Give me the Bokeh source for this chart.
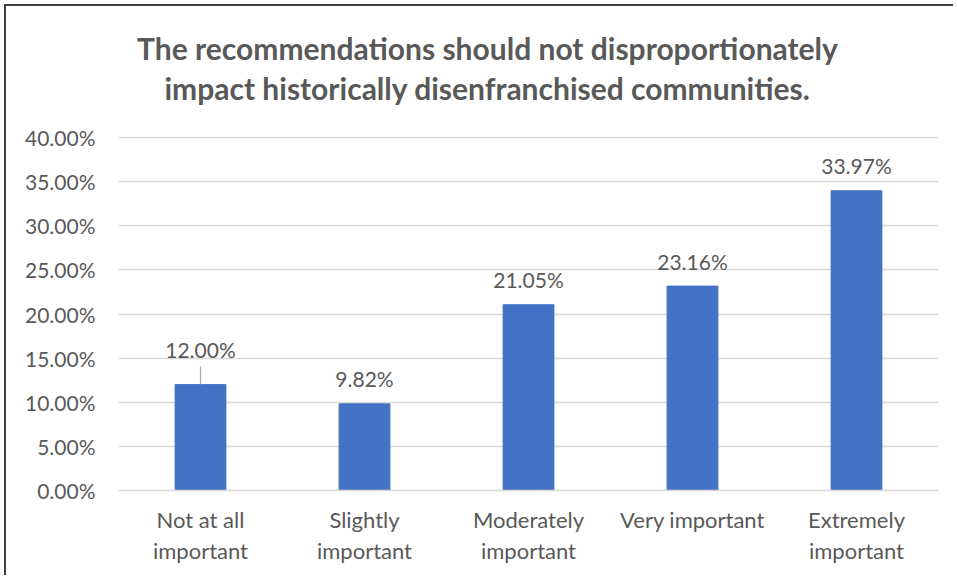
from bokeh.plotting import figure
from bokeh.models import (ColumnDataSource, Range1d, FixedTicker, NumeralTickFormatter,
                          CategoricalAxis, CustomJSTickFormatter)
from bokeh.core.properties import value
from bokeh.embed import file_html
from bokeh.resources import INLINE

# ---- data ----
title_lines = [
    "The recommendations should not disproportionately",
    "impact historically disenfranchised communities.",
]
categories = [
    "Not at all important",
    "Slightly important",
    "Moderately important",
    "Very important",
    "Extremely important",
]
label_line1 = ["Not at all", "Slightly", "Moderately", "Very important", "Extremely"]
label_line2 = ["important", "important", "important", "", "important"]
shares = [0.1200, 0.0982, 0.2105, 0.2316, 0.3397]
y_ticks = [0.00, 0.05, 0.10, 0.15, 0.20, 0.25, 0.30, 0.35, 0.40]

# ---- styling ----
FONT = "Lato"
GRAY = "#595959"
BAR = "#4472C4"
GRID = "#D9D9D9"

W, H = 949, 571
FRAME_L, FRAME_R, FRAME_B = 112, 17, 87
AXIS_TOP_PX = 131          # space (px) between canvas top and the 40% gridline
FRAME_H = H - FRAME_B       # frame spans to the canvas top so the title can live inside it
Y_MAX = 0.40
px = Y_MAX / (FRAME_H - AXIS_TOP_PX)  # data units per pixel
Y_TOP = Y_MAX + AXIS_TOP_PX * px

labels = [f"{v * 100:.2f}%" for v in shares]
lifts = [-35 if i == 0 else -25 for i in range(len(shares))]

src = ColumnDataSource(dict(cat=categories, share=shares, label=labels, dy=lifts))

p = figure(
    x_range=categories,
    y_range=Range1d(0, Y_TOP),
    width=W,
    height=H,
    output_backend="svg",
    toolbar_location=None,
    min_border_left=FRAME_L,
    min_border_right=FRAME_R,
    min_border_top=0,
    min_border_bottom=FRAME_B,
)
p.title.visible = False
p.styles = {
    "margin-left": "4px",
    "margin-top": "4px",
    "border-left": "2px solid #404040",
    "border-top": "2px solid #404040",
}

p.outline_line_color = None
p.background_fill_color = "white"
p.border_fill_color = "white"

p.xgrid.grid_line_color = None
p.ygrid.grid_line_color = GRID
p.ygrid.grid_line_width = 1.5
p.ygrid.ticker = FixedTicker(ticks=y_ticks)

p.yaxis.ticker = FixedTicker(ticks=y_ticks)
p.yaxis.formatter = NumeralTickFormatter(format="0.00%")
p.yaxis.axis_line_color = None
p.yaxis.major_tick_line_color = None
p.yaxis.minor_tick_line_color = None
p.yaxis.major_tick_out = 0
p.yaxis.major_label_text_font = FONT
p.yaxis.major_label_text_font_size = "21px"
p.yaxis.major_label_text_color = GRAY
p.yaxis.major_label_standoff = 23


def line_formatter(lines):
    return CustomJSTickFormatter(
        args=dict(cats=categories, lines=lines),
        code="const i = cats.indexOf(tick); return i >= 0 ? lines[i] : '';",
    )


# first line of category labels
xa = p.xaxis[0]
xa.axis_line_color = GRID
xa.axis_line_width = 1.5
xa.major_tick_line_color = None
xa.minor_tick_line_color = None
xa.major_tick_out = 0
xa.formatter = line_formatter(label_line1)
xa.major_label_text_font = FONT
xa.major_label_text_font_size = "22px"
xa.major_label_text_color = GRAY
xa.major_label_standoff = 15

# second line of category labels
xa2 = CategoricalAxis(
    axis_line_color=None,
    major_tick_line_color=None,
    minor_tick_line_color=None,
    major_tick_out=0,
    formatter=line_formatter(label_line2),
    major_label_text_font=FONT,
    major_label_text_font_size="22px",
    major_label_text_color=GRAY,
    major_label_standoff=1,
)
p.add_layout(xa2, "below")

p.vbar(x="cat", top="share", width=0.31, source=src, fill_color=BAR, line_color=BAR)

# leader line for the first (displaced) data label
p.segment(
    x0=[categories[0]], y0=[shares[0]],
    x1=[categories[0]], y1=[shares[0] + 18 * px],
    line_color="#A6A6A6", line_width=1.2,
)

p.text(
    x="cat", y="share", text="label", y_offset="dy", source=src,
    text_align="center", text_baseline="middle",
    text_font=value(FONT), text_font_size="21px", text_color=GRAY,
)

# two centred title lines, 90px and 50px above the 40% gridline
mid = categories[len(categories) // 2]
p.text(
    x=[mid, mid], y=[Y_MAX + 90 * px, Y_MAX + 50 * px], text=title_lines,
    x_offset=-41, text_align="center", text_baseline="middle",
    text_font=value(FONT), text_font_size="30px", text_font_style="bold",
    text_color=GRAY,
)

open("out.html", "w").write(file_html(p, INLINE))
